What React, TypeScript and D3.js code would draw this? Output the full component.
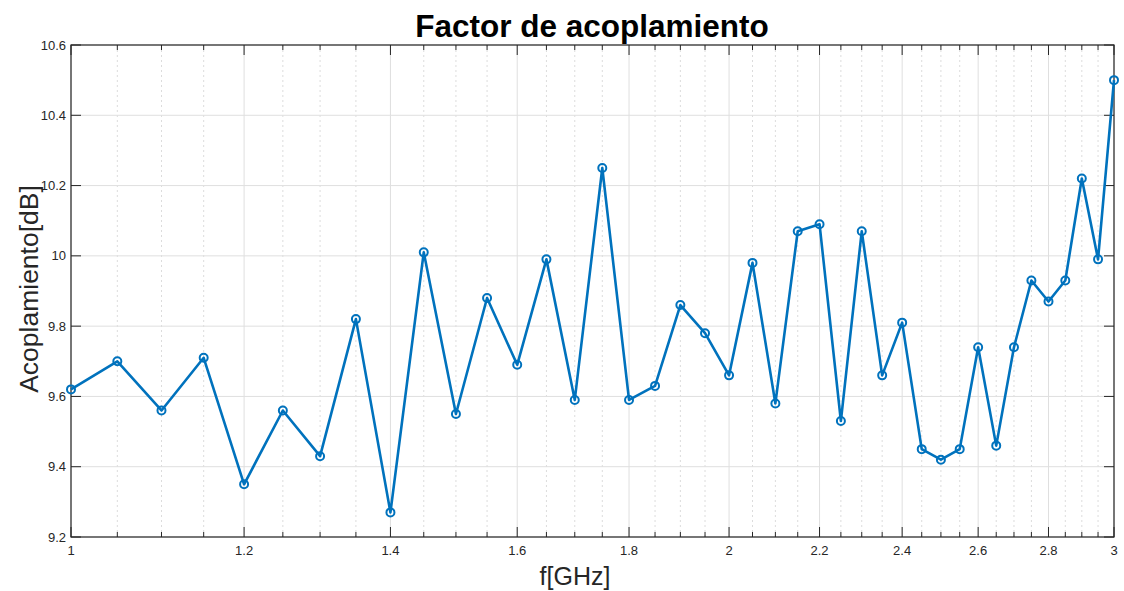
import React from "react";
import * as d3 from "d3";

const freqs = [1, 1.05, 1.1, 1.15, 1.2, 1.25, 1.3, 1.35, 1.4, 1.45, 1.5, 1.55, 1.6, 1.65, 1.7, 1.75, 1.8, 1.85, 1.9, 1.95, 2, 2.05, 2.1, 2.15, 2.2, 2.25, 2.3, 2.35, 2.4, 2.45, 2.5, 2.55, 2.6, 2.65, 2.7, 2.75, 2.8, 2.85, 2.9, 2.95, 3];
const coupling = [9.62, 9.70, 9.56, 9.71, 9.35, 9.56, 9.43, 9.82, 9.27, 10.01, 9.55, 9.88, 9.69, 9.99, 9.59, 10.25, 9.59, 9.63, 9.86, 9.78, 9.66, 9.98, 9.58, 10.07, 10.09, 9.53, 10.07, 9.66, 9.81, 9.45, 9.42, 9.45, 9.74, 9.46, 9.74, 9.93, 9.87, 9.93, 10.22, 9.99, 10.5];
const xMajorTicks = [1, 1.2, 1.4, 1.6, 1.8, 2, 2.2, 2.4, 2.6, 2.8, 3];
const xMinorTicks = [1.05, 1.1, 1.15, 1.25, 1.3, 1.35, 1.45, 1.5, 1.55, 1.65, 1.7, 1.75, 1.85, 1.9, 1.95, 2.05, 2.1, 2.15, 2.25, 2.3, 2.35, 2.45, 2.5, 2.55, 2.65, 2.7, 2.75, 2.85, 2.9, 2.95];
const yTicks = [9.2, 9.4, 9.6, 9.8, 10, 10.2, 10.4, 10.6];

const W = 1124, H = 591;
const L = 71, R = 1114, T = 45, B = 537;
const font = "Liberation Sans, Arial, Helvetica, sans-serif";

export default function App() {
  const x = d3.scaleLog().domain([1, 3]).range([L, R]);
  const y = d3.scaleLinear().domain([9.2, 10.6]).range([B, T]);
  const line = d3.line<number>().x((_, i) => x(freqs[i])).y((d) => y(d));
  const fmt = (v: number) => String(+v.toFixed(1));
  return (
    <svg width={W} height={H} style={{ position: "absolute", left: 0, top: 0, background: "#fff" }}>
      <rect x={0} y={0} width={W} height={H} fill="#fff" />
      {xMinorTicks.map((t) => (
        <line key={"mg" + t} x1={x(t)} x2={x(t)} y1={T} y2={B} stroke="#dcdcdc" strokeWidth={1} strokeDasharray="2,3" />
      ))}
      {xMajorTicks.map((t) => (
        <line key={"g" + t} x1={x(t)} x2={x(t)} y1={T} y2={B} stroke="#dfdfdf" strokeWidth={1} />
      ))}
      {yTicks.map((t) => (
        <line key={"gy" + t} x1={L} x2={R} y1={y(t)} y2={y(t)} stroke="#dfdfdf" strokeWidth={1} />
      ))}
      {xMajorTicks.map((t) => (
        <g key={"t" + t}>
          <line x1={x(t)} x2={x(t)} y1={B} y2={B - 10} stroke="#262626" />
          <line x1={x(t)} x2={x(t)} y1={T} y2={T + 10} stroke="#262626" />
          <text x={x(t)} y={B + 18} textAnchor="middle" fontSize={13} fill="#262626" fontFamily={font}>{fmt(t)}</text>
        </g>
      ))}
      {xMinorTicks.map((t) => (
        <g key={"mt" + t}>
          <line x1={x(t)} x2={x(t)} y1={B} y2={B - 5} stroke="#262626" />
          <line x1={x(t)} x2={x(t)} y1={T} y2={T + 5} stroke="#262626" />
        </g>
      ))}
      {yTicks.map((t) => (
        <g key={"ty" + t}>
          <line x1={L} x2={L + 10} y1={y(t)} y2={y(t)} stroke="#262626" />
          <line x1={R} x2={R - 10} y1={y(t)} y2={y(t)} stroke="#262626" />
          <text x={L - 5} y={y(t) + 4.5} textAnchor="end" fontSize={13} fill="#262626" fontFamily={font}>{fmt(t)}</text>
        </g>
      ))}
      <rect x={L} y={T} width={R - L} height={B - T} fill="none" stroke="#262626" strokeWidth={1.2} />
      <path d={line(coupling) || ""} fill="none" stroke="#0072BD" strokeWidth={2.6} strokeLinejoin="round" />
      {coupling.map((v, i) => (
        <circle key={"c" + i} cx={x(freqs[i])} cy={y(v)} r={4} fill="none" stroke="#0072BD" strokeWidth={2} />
      ))}
      <text x={592} y={37} textAnchor="middle" fontSize={31.5} fontWeight="bold" fill="#000" fontFamily={font}>Factor de acoplamiento</text>
      <text x={575} y={585} textAnchor="middle" fontSize={25} fill="#262626" fontFamily={font}>f[GHz]</text>
      <text transform={`translate(38,${(T + B) / 2 - 2}) rotate(-90)`} textAnchor="middle" fontSize={26.5} fill="#262626" fontFamily={font}>Acoplamiento[dB]</text>
    </svg>
  );
}
